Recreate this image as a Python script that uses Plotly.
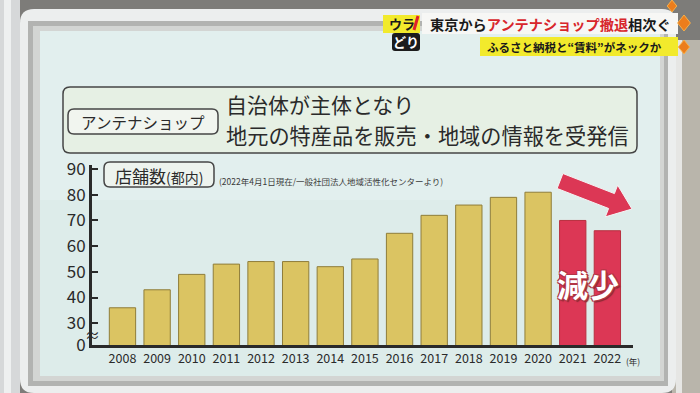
import math
import plotly.graph_objects as go

# ---- data ----
years = ["2008", "2009", "2010", "2011", "2012", "2013", "2014", "2015",
         "2016", "2017", "2018", "2019", "2020", "2021", "2022"]
shops = [36, 43, 49, 53, 54, 54, 52, 55, 65, 72, 76, 79, 81, 70, 66]
y_ticks = [30, 40, 50, 60, 70, 80, 90]
y_tick_labels = ["30", "40", "50", "60", "70", "80", "90"]
zero_pos = 21.5          # where the broken axis shows "0"
decrease_years = ["2021", "2022"]

W, H = 700, 393
FONT = "Noto Sans CJK JP"
GOLD = "#DBC462"
RED = "#DC3755"
INK = "#2a2a2a"


def X(x):
    return x / W


def Y(y):
    return 1 - y / H


def rrect(x0, y0, x1, y1, r):
    return (f"M {X(x0+r)},{Y(y0)} L {X(x1-r)},{Y(y0)} Q {X(x1)},{Y(y0)} {X(x1)},{Y(y0+r)} "
            f"L {X(x1)},{Y(y1-r)} Q {X(x1)},{Y(y1)} {X(x1-r)},{Y(y1)} "
            f"L {X(x0+r)},{Y(y1)} Q {X(x0)},{Y(y1)} {X(x0)},{Y(y1-r)} "
            f"L {X(x0)},{Y(y0+r)} Q {X(x0)},{Y(y0)} {X(x0+r)},{Y(y0)} Z")


def poly(pts):
    return "M " + " L ".join(f"{X(a)},{Y(b)}" for a, b in pts) + " Z"


def rect(x0, y0, x1, y1, fill, line=None, lw=0, layer="below"):
    return dict(type="rect", xref="paper", yref="paper", x0=X(x0), x1=X(x1),
                y0=Y(y1), y1=Y(y0), fillcolor=fill,
                line=dict(color=line or fill, width=lw), layer=layer)


def pathshape(path, fill, line=None, lw=0, layer="below"):
    return dict(type="path", xref="paper", yref="paper", path=path,
                fillcolor=fill, line=dict(color=line or fill, width=lw), layer=layer)


colors = [RED if y in decrease_years else GOLD for y in years]
outlines = ["#b8303f" if y in decrease_years else "#8f7d3a" for y in years]

fig = go.Figure()
fig.add_trace(go.Bar(
    x=years, y=shops, width=0.76,
    marker=dict(color=colors, line=dict(color=outlines, width=1)),
    hoverinfo="x+y",
))

shapes = []
# surroundings
shapes.append(rect(0, 0, 700, 393, "#7d7c79"))
shapes.append(rect(0, 0, 20, 393, "#d6d8d9"))
shapes.append(rect(4, 0, 11, 393, "#eef0f0"))
shapes.append(rect(672, 40, 700, 393, "#b9b5ab"))
shapes.append(rect(676, 40, 682, 393, "#e6e6e4"))
# monitor frame
shapes.append(pathshape(rrect(20, 9, 676, 393, 14), "#eceeee"))
shapes.append(rect(28, 21, 668, 386, "#b2b3b1"))
shapes.append(rect(33, 26, 664, 381, "#d3d5d3"))
# screen
shapes.append(rect(40, 31, 660, 376, "#e2efee"))
shapes.append(rect(40, 200, 660, 376, "#ddecea"))
# title box
shapes.append(pathshape(rrect(63, 87, 637, 153, 7), "#e6f0e4", "#454545", 1.5))
shapes.append(pathshape(rrect(68, 109, 218, 134, 6), "#f1f5ef", "#454545", 1.5))
# subtitle box
shapes.append(pathshape(rrect(104, 162, 214, 187, 6), "#edf3ee", "#454545", 1.5))

# arrow
tx, ty, px_, py_ = 560, 181, 632, 209
dx, dy = px_ - tx, py_ - ty
L = math.hypot(dx, dy)
dx, dy = dx / L, dy / L
nx, ny = -dy, dx
bx, by = px_ - 22 * dx, py_ - 22 * dy
pts = [(tx - 8 * nx, ty - 8 * ny), (bx - 8 * nx, by - 8 * ny), (bx - 17 * nx, by - 17 * ny),
       (px_, py_), (bx + 17 * nx, by + 17 * ny), (bx + 8 * nx, by + 8 * ny),
       (tx + 8 * nx, ty + 8 * ny)]
shapes.append(pathshape(poly(pts), RED, "#f4f4f4", 1, layer="above"))

# headline banner
shapes.append(rect(422, 13, 678, 34, "#f7f7f5", layer="above"))
shapes.append(rect(480, 37, 678, 56, "#f2ea2c", layer="above"))
shapes.append(rect(383, 15, 420, 33, "#f2ea2c", layer="above"))
shapes.append(pathshape(rrect(392, 33, 420, 51, 3), "#1c1c1c", layer="above"))
shapes.append(dict(type="line", xref="paper", yref="paper", x0=X(414), y0=Y(30), x1=X(418),
                   y1=Y(16), line=dict(color="#e0202a", width=3), layer="above"))
for cx, cy, s in [(684, 23, 8), (684, 47, 7), (672, 6, 6)]:
    shapes.append(pathshape(poly([(cx, cy - s), (cx + s * 0.8, cy), (cx, cy + s), (cx - s * 0.8, cy)]),
                            "#ec7d1c", "#f7b04a", 1, layer="above"))

annotations = [
    dict(x=X(143), y=Y(121.5), text="アンテナショップ", font=dict(size=15.5, color=INK)),
    dict(x=X(224), y=Y(104), text="自治体が主体となり", xanchor="left", font=dict(size=21, color=INK)),
    dict(x=X(224), y=Y(134), text="地元の特産品を販売・地域の情報を受発信", xanchor="left",
         font=dict(size=21.2, color=INK)),
    dict(x=X(159), y=Y(175), text="店舗数<span style='font-size:14px'>(都内)</span>",
         font=dict(size=17, color=INK)),
    dict(x=X(217), y=Y(181), text="(2022年4月1日現在/一般社団法人地域活性化センターより)",
         xanchor="left", font=dict(size=8.5, color="#3a3a3a")),
    dict(x=X(92.5), y=Y(334), text="≈", font=dict(size=15, color=INK)),
    dict(x=X(624), y=Y(361), text="(年)", xanchor="left", font=dict(size=8.5, color=INK)),
    dict(x=X(588), y=Y(283), text="<b>減少</b>",
         font=dict(size=31, color="#ffffff",
                   shadow="-1px -1px 0 #b23545, 1px -1px 0 #b23545, -1px 1px 0 #b23545, "
                          "1px 1px 0 #b23545, 2px 2px 1px #8a2a35")),
    dict(x=X(428), y=Y(24), xanchor="left",
         text="<b>東京から<span style='color:#d8262c'>アンテナショップ撤退</span>相次ぐ</b>",
         font=dict(size=14.2, color="#1a1a1a")),
    dict(x=X(485), y=Y(47), xanchor="left", text="<b>ふるさと納税と“賃料”がネックか</b>",
         font=dict(size=11.5, color="#1a1a1a")),
    dict(x=X(401.5), y=Y(24), text="<b>ウラ</b>", font=dict(size=13, color="#1a1a1a")),
    dict(x=X(406), y=Y(42), text="<b>どり</b>", font=dict(size=13, color="#ffffff")),
]
for a in annotations:
    a.setdefault("xanchor", "center")
    a.update(xref="paper", yref="paper", yanchor="middle", showarrow=False)

fig.update_layout(
    width=W, height=H,
    margin=dict(l=0, r=0, t=0, b=0),
    paper_bgcolor="#7d7c79",
    plot_bgcolor="rgba(0,0,0,0)",
    font=dict(family=FONT, color=INK),
    showlegend=False,
    bargap=0.24,
    shapes=shapes,
    annotations=annotations,
    xaxis=dict(
        domain=[X(92), X(633)],
        type="category",
        range=[-0.88, 14.74],
        automargin=False,
        showline=True, linecolor="#2a2a2a", linewidth=3,
        ticks="", showgrid=False, zeroline=False,
        tickfont=dict(size=12.5, color=INK, family=FONT),
    ),
    yaxis=dict(
        domain=[Y(345), Y(165)],
        range=[zero_pos, 91.6],
        automargin=False,
        tickvals=[zero_pos] + y_ticks,
        ticktext=["0"] + y_tick_labels,
        showline=True, linecolor="#2a2a2a", linewidth=3,
        ticks="inside", ticklen=6, tickwidth=2, tickcolor="#2a2a2a",
        showgrid=False, zeroline=False,
        tickfont=dict(size=17, color=INK, family=FONT),
    ),
)

fig.write_html("out.html", config={"displayModeBar": False},
               post_script="document.body.style.margin='0';document.body.style.overflow='hidden';")
